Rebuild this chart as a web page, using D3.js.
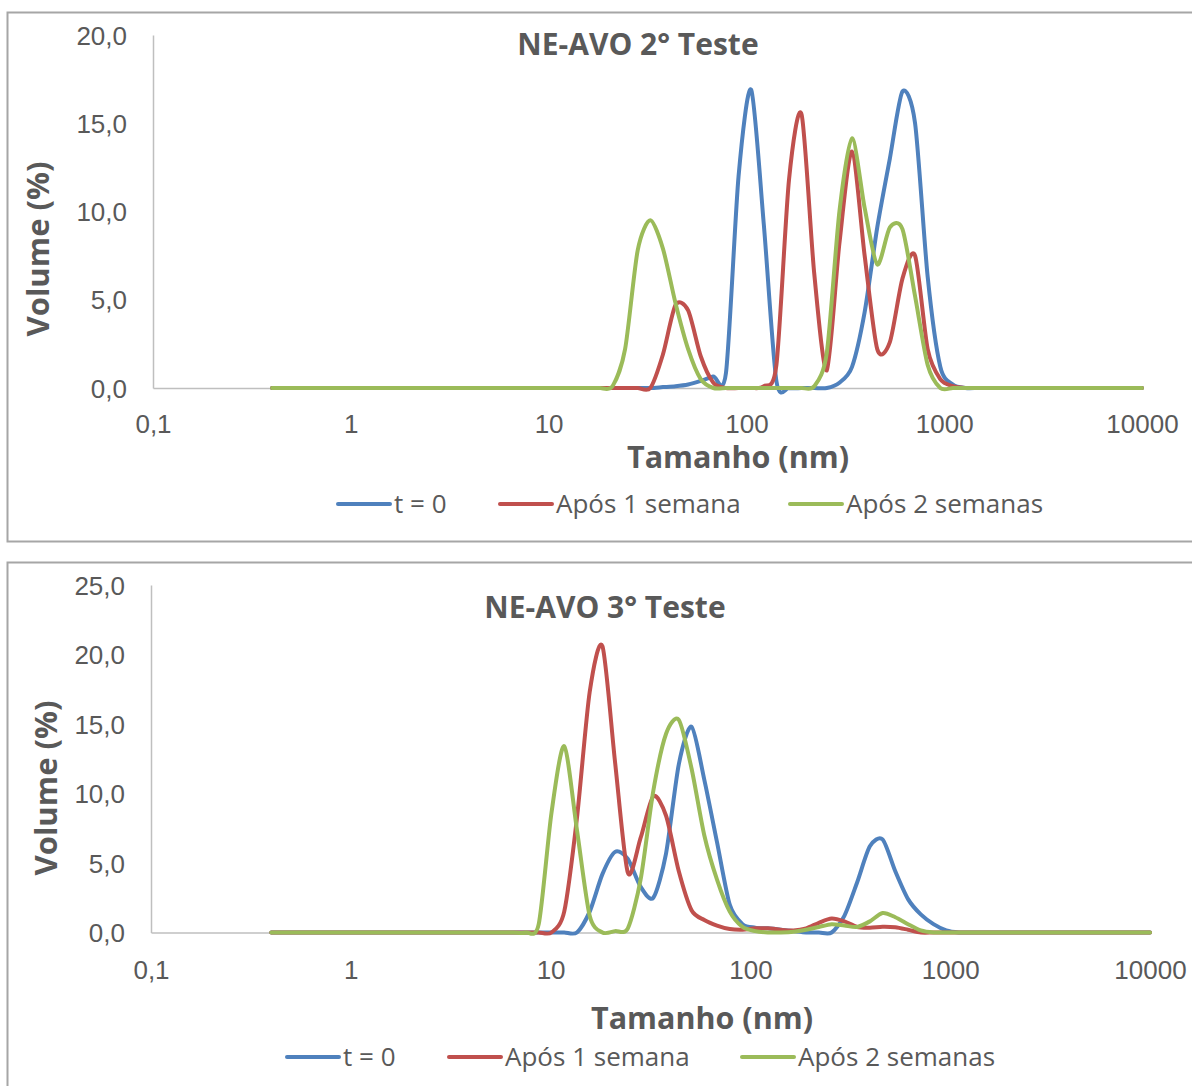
<!DOCTYPE html>
<html lang="pt">
<head>
<meta charset="UTF-8">
<style>
  body { margin: 0; background: #fff; }
  svg { display: block; font-family: "Open Sans", sans-serif; }
  .tick text { fill: #595959; font-size: 26px; }
  .domain { stroke: #BFBFBF; stroke-width: 1.5px; }
  .ttl { fill: #595959; font-weight: bold; }
  .leg { fill: #595959; font-size: 26px; }
</style>
</head>
<body>
<svg id="chart" width="1192" height="1086"></svg>
<script src="https://d3js.org/d3.v7.min.js"></script>
<script>
// tamanhos das classes (nm), comuns aos dois ensaios
const sizes = [
  0.4, 0.4632, 0.5365, 0.6213, 0.7195, 0.8332, 0.9649, 1.117, 1.294, 1.499,
  1.736, 2.01, 2.328, 2.696, 3.122, 3.615, 4.187, 4.849, 5.615, 6.503,
  7.531, 8.721, 10.1, 11.7, 13.54, 15.69, 18.17, 21.04, 24.36, 28.21,
  32.67, 37.84, 43.82, 50.75, 58.77, 68.06, 78.82, 91.28, 105.7, 122.4,
  141.8, 164.2, 190.1, 220.2, 255, 295.3, 342, 396.1, 458.7, 531.2,
  615.1, 712.4, 825, 955.4, 1106, 1281, 1484, 1718, 1990, 2305,
  2669, 3091, 3580, 4145, 4801, 5560, 6439, 7456, 8635, 10000
];

const seriesNames = ["t = 0", "Após 1 semana", "Após 2 semanas"];
const seriesColors = ["#4F81BD", "#C0504D", "#9BBB59"];

const xTicks = [0.1, 1, 10, 100, 1000, 10000];
const xTickLabels = ["0,1", "1", "10", "100", "1000", "10000"];

// 2° teste
const test2T0 = [
  0, 0, 0, 0, 0, 0, 0, 0, 0, 0,
  0, 0, 0, 0, 0, 0, 0, 0, 0, 0,
  0, 0, 0, 0, 0, 0, 0, 0, 0, 0,
  0, 0.05, 0.1, 0.2, 0.4, 0.65, 0.85, 12.0, 16.9, 9.3,
  0.4, 0, 0, 0, 0, 0.3, 1.2, 4.3, 9.1, 13.0,
  16.8, 15.0, 6.3, 1.2, 0.2, 0, 0, 0, 0, 0,
  0, 0, 0, 0, 0, 0, 0, 0, 0, 0
];
const test2Week1 = [
  0, 0, 0, 0, 0, 0, 0, 0, 0, 0,
  0, 0, 0, 0, 0, 0, 0, 0, 0, 0,
  0, 0, 0, 0, 0, 0, 0, 0, 0, 0,
  0, 1.9, 4.7, 4.4, 1.8, 0.3, 0, 0, 0, 0.1,
  1.3, 11.8, 15.5, 6.5, 1.0, 8.2, 13.4, 7.5, 2.2, 2.6,
  6.2, 7.5, 2.2, 0.5, 0.1, 0, 0, 0, 0, 0,
  0, 0, 0, 0, 0, 0, 0, 0, 0, 0
];
const test2Week2 = [
  0, 0, 0, 0, 0, 0, 0, 0, 0, 0,
  0, 0, 0, 0, 0, 0, 0, 0, 0, 0,
  0, 0, 0, 0, 0, 0, 0, 0.1, 2.2, 7.8,
  9.5, 7.9, 4.8, 2.2, 0.5, 0, 0, 0, 0, 0,
  0, 0, 0, 0.1, 2.0, 10.0, 14.15, 10.2, 7.0, 9.1,
  9.0, 5.2, 1.3, 0, 0, 0, 0, 0, 0, 0,
  0, 0, 0, 0, 0, 0, 0, 0, 0, 0
];
const yTicks2 = [0, 5, 10, 15, 20];
const yTickLabels2 = ["0,0", "5,0", "10,0", "15,0", "20,0"];

// 3° teste
const test3T0 = [
  0, 0, 0, 0, 0, 0, 0, 0, 0, 0,
  0, 0, 0, 0, 0, 0, 0, 0, 0, 0,
  0, 0, 0, 0, 0, 1.5, 4.2, 5.8, 5.3, 3.3,
  2.5, 5.7, 12.1, 14.8, 11.0, 6.5, 2.0, 0.6, 0.35, 0.3,
  0.2, 0.1, 0, 0, 0, 1.2, 3.6, 6.2, 6.7, 4.4,
  2.4, 1.3, 0.6, 0.15, 0, 0, 0, 0, 0, 0,
  0, 0, 0, 0, 0, 0, 0, 0, 0, 0
];
const test3Week1 = [
  0, 0, 0, 0, 0, 0, 0, 0, 0, 0,
  0, 0, 0, 0, 0, 0, 0, 0, 0, 0,
  0, 0, 0, 1.5, 8.2, 17.3, 20.6, 12.2, 4.3, 6.8,
  9.8, 8.4, 4.4, 1.6, 0.9, 0.5, 0.25, 0.2, 0.3, 0.3,
  0.2, 0.15, 0.3, 0.7, 1.0, 0.8, 0.4, 0.35, 0.42, 0.38,
  0.2, 0, 0, 0, 0, 0, 0, 0, 0, 0,
  0, 0, 0, 0, 0, 0, 0, 0, 0, 0
];
const test3Week2 = [
  0, 0, 0, 0, 0, 0, 0, 0, 0, 0,
  0, 0, 0, 0, 0, 0, 0, 0, 0, 0,
  0, 0.6, 8.6, 13.4, 7.4, 1.2, 0, 0.1, 0.3, 3.8,
  10.2, 14.3, 15.3, 11.8, 7.0, 3.8, 1.5, 0.4, 0.1, 0,
  0, 0.05, 0.2, 0.4, 0.6, 0.5, 0.4, 0.8, 1.4, 1.1,
  0.6, 0.15, 0, 0, 0, 0, 0, 0, 0, 0,
  0, 0, 0, 0, 0, 0, 0, 0, 0, 0
];
const yTicks3 = [0, 5, 10, 15, 20, 25];
const yTickLabels3 = ["0,0", "5,0", "10,0", "15,0", "20,0", "25,0"];

const svg = d3.select("#chart");

function drawChart(c) {
  let g = svg.append("g");

  // moldura do gráfico
  g.append("rect")
    .attr("x", 7.5).attr("y", c.boxTop)
    .attr("width", 1200).attr("height", c.boxH)
    .attr("fill", "none").attr("stroke", "#A6A6A6").attr("stroke-width", 2);

  let x = d3.scaleLog().domain([0.1, 10000]).range(c.xRange);
  let y = d3.scaleLinear().domain([0, c.yMax]).range(c.yRange);

  let yAxis = g.append("g")
    .attr("transform", "translate(" + c.xRange[0] + ",0)")
    .call(d3.axisLeft(y).tickValues(c.yTicks).tickSize(0).tickPadding(26)
      .tickFormat((d, i) => c.yLabels[i]));
  yAxis.selectAll(".tick text").attr("dy", "0.35em");

  g.append("g")
    .attr("transform", "translate(0," + c.yRange[0] + ")")
    .call(d3.axisBottom(x).tickValues(xTicks).tickSize(0).tickPadding(c.xPad)
      .tickFormat((d, i) => xTickLabels[i]));

  let line = d3.line()
    .x((d, i) => x(sizes[i]))
    .y(d => y(d))
    .curve(d3.curveCardinal.tension(0.2));

  c.series.forEach((s, k) => {
    g.append("path")
      .datum(s)
      .attr("d", line)
      .attr("fill", "none")
      .attr("stroke", seriesColors[k])
      .attr("stroke-width", 4)
      .attr("stroke-linejoin", "round")
      .attr("stroke-linecap", "round");
  });

  g.append("text").attr("class", "ttl")
    .attr("x", c.title[1]).attr("y", c.title[2])
    .attr("text-anchor", "middle").attr("font-size", 30)
    .text(c.title[0]);

  g.append("text").attr("class", "ttl")
    .attr("x", c.xTitle[0]).attr("y", c.xTitle[1])
    .attr("text-anchor", "middle").attr("font-size", 30.5)
    .text("Tamanho (nm)");

  g.append("text").attr("class", "ttl")
    .attr("transform", "translate(" + c.yTitle[0] + "," + c.yTitle[1] + ") rotate(-90)")
    .attr("text-anchor", "middle").attr("font-size", 31)
    .text("Volume (%)");

  // legenda
  let leg = g.append("g");
  seriesNames.forEach((n, k) => {
    let lx = c.legX[k];
    leg.append("line")
      .attr("x1", lx).attr("x2", lx + 52)
      .attr("y1", c.legY).attr("y2", c.legY)
      .attr("stroke", seriesColors[k]).attr("stroke-width", 4)
      .attr("stroke-linecap", "round");
    leg.append("text").attr("class", "leg")
      .attr("x", lx + 56).attr("y", c.legY + 9)
      .text(n);
  });
}

drawChart({
  boxTop: 12.5, boxH: 529,
  xRange: [153, 1142], yRange: [388, 35], yMax: 20,
  yTicks: yTicks2, yLabels: yTickLabels2, xPad: 27,
  series: [test2T0, test2Week1, test2Week2],
  title: ["NE-AVO 2° Teste", 638, 55],
  xTitle: [738, 468], yTitle: [49, 249],
  legX: [338, 500, 790], legY: 504
});

drawChart({
  boxTop: 562.5, boxH: 560,
  xRange: [151, 1150], yRange: [932.5, 585], yMax: 25,
  yTicks: yTicks3, yLabels: yTickLabels3, xPad: 28,
  series: [test3T0, test3Week1, test3Week2],
  title: ["NE-AVO 3° Teste", 605, 618],
  xTitle: [702, 1029], yTitle: [57, 788],
  legX: [287, 449, 742], legY: 1057
});
</script>
</body>
</html>
